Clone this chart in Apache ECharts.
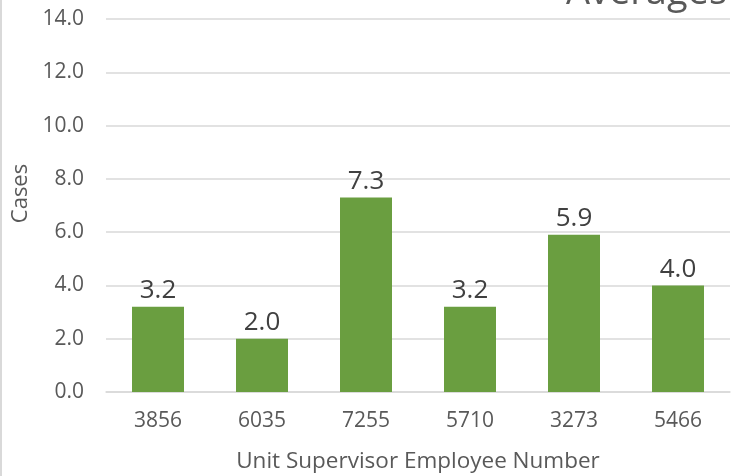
<!doctype html>
<html>
<head>
<meta charset="UTF-8">
<title>Averages</title>
<script src="https://cdn.jsdelivr.net/npm/echarts@6/dist/echarts.min.js"></script>
<style>
  html, body { margin: 0; padding: 0; background: #fff; }
  #main { width: 744px; height: 476px; border-left: 2px solid #d9d9d9; }
</style>
</head>
<body>
<div id="main"></div>
<script>
  var supervisors = ['3856', '6035', '7255', '5710', '3273', '5466'];
  var avgCases = [3.2, 2.0, 7.3, 3.2, 5.9, 4.0];
  var yTicks = [0, 14, 2];   // min, max, step

  var chart = echarts.init(document.getElementById('main'));
  var font = '"Open Sans", "Noto Sans", sans-serif';

  var option = {
    animation: false,
    textStyle: { fontFamily: font },
    title: {
      text: 'Averages',
      right: 14,
      top: -31,
      textStyle: { fontFamily: font, fontSize: 38, fontWeight: 'normal', color: '#595959' }
    },
    grid: { left: 104, right: 16, top: 19, bottom: 84, outerBoundsMode: 'none' },
    xAxis: {
      type: 'category',
      data: supervisors,
      name: 'Unit Supervisor Employee Number',
      nameLocation: 'middle',
      nameGap: 58,
      nameTextStyle: { fontSize: 22.5, color: '#595959' },
      axisLine: { lineStyle: { color: '#d9d9d9', width: 1.5 } },
      axisTick: { show: false },
      axisLabel: { fontSize: 21, color: '#595959', margin: 19 }
    },
    yAxis: {
      type: 'value',
      min: yTicks[0],
      max: yTicks[1],
      interval: yTicks[2],
      name: 'Cases',
      nameLocation: 'middle',
      nameGap: 74,
      nameMoveOverlap: false,
      nameTextStyle: { fontSize: 22, color: '#595959', padding: [0, 0, 0, 24] },
      axisLabel: {
        fontSize: 21, color: '#595959', margin: 22,
        formatter: function (v) { return v.toFixed(1); }
      },
      splitLine: { lineStyle: { color: '#d9d9d9', width: 1.5 } }
    },
    series: [{
      type: 'bar',
      data: avgCases,
      barWidth: '50%',
      itemStyle: { color: '#6a9e40' },
      label: {
        show: true,
        position: 'top',
        distance: 3,
        fontSize: 26,
        color: '#404040',
        formatter: function (p) { return p.value.toFixed(1); }
      }
    }]
  };
  chart.setOption(option);
</script>
</body>
</html>
